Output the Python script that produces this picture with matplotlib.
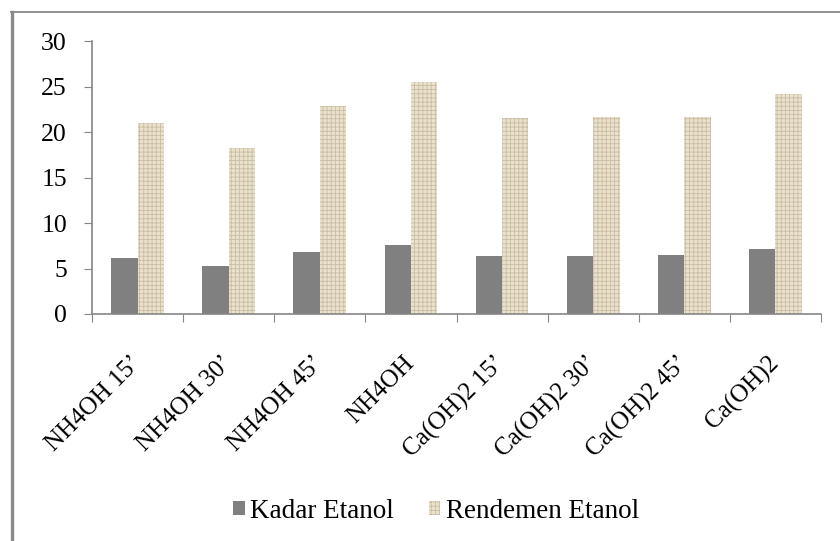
import matplotlib
matplotlib.use("Agg")
import matplotlib.pyplot as plt
from matplotlib.lines import Line2D
import numpy as np

plt.rcParams["font.family"] = ["Liberation Serif", "DejaVu Serif"]
plt.rcParams["hatch.linewidth"] = 0.6

categories = ["NH4OH 15’", "NH4OH 30’", "NH4OH 45’", "NH4OH",
              "Ca(OH)2 15’", "Ca(OH)2 30’", "Ca(OH)2 45’", "Ca(OH)2"]
kadar_etanol = [6.2, 5.3, 6.8, 7.6, 6.4, 6.4, 6.5, 7.1]
rendemen_etanol = [21.0, 18.2, 22.9, 25.5, 21.5, 21.6, 21.7, 24.2]

x = np.arange(len(categories))
width = 0.29

fig = plt.figure(figsize=(8.4, 5.41), dpi=100)
ax = fig.add_axes([92 / 840, 1 - 314 / 541, (821 - 92) / 840, (314 - 41) / 541])

ax.bar(x - width / 2, kadar_etanol, width, color="#808080", label="Kadar Etanol")
ax.bar(x + width / 2, rendemen_etanol, width, facecolor="#ebe2cd",
       edgecolor="#c9bda3", linewidth=0, hatch="++++", label="Rendemen Etanol")

ax.set_xlim(-0.5, len(categories) - 0.5)
ax.set_ylim(0, 30)
ax.set_yticks(np.arange(0, 31, 5))

# boundaries get the tick marks, centres get the labels
ax.set_xticks(np.arange(-0.5, len(categories), 1.0))
ax.set_xticklabels([])
ax.set_xticks(x, minor=True)
ax.set_xticklabels(categories, minor=True, rotation=45, ha="right", va="center",
                   rotation_mode="anchor", fontsize=18)
ax.tick_params(axis="x", which="minor", length=0, pad=33)
ax.tick_params(axis="x", which="major", length=6, color="#868686")
ax.tick_params(axis="y", length=6, color="#868686", pad=12, labelsize=18.5)

for side in ("top", "right"):
    ax.spines[side].set_visible(False)
for side in ("left", "bottom"):
    ax.spines[side].set_color("#868686")
    ax.spines[side].set_linewidth(1.2)

fig.legend(loc="center", bbox_to_anchor=(436 / 840, 1 - 511 / 541),
           ncol=2, frameon=False, fontsize=19.5, handlelength=0.42,
           handleheight=0.42, handletextpad=0.2, columnspacing=1.3)

# outer frame along the top and left edges
fig.add_artist(Line2D([11 / 840, 1.0], [1 - 12 / 541, 1 - 12 / 541],
                      transform=fig.transFigure, color="#8a8a8a", linewidth=1.3))
fig.add_artist(Line2D([11.5 / 840, 11.5 / 840], [0.0, 1 - 12 / 541],
                      transform=fig.transFigure, color="#8a8a8a", linewidth=2.4))

fig.savefig("out.png", dpi=100)
